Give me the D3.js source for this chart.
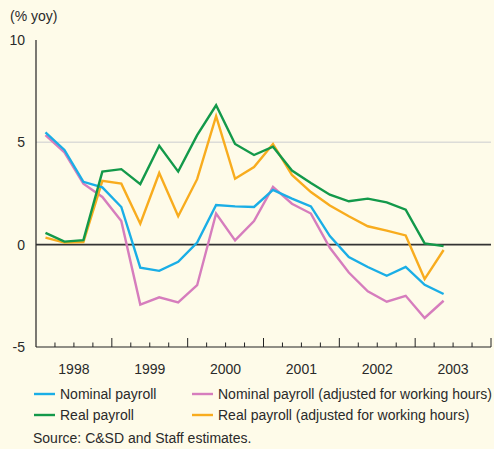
<!DOCTYPE html>
<html>
<head>
<meta charset="utf-8">
<script src="https://cdn.jsdelivr.net/npm/d3@7"></script>
<style>
  body { margin: 0; background: #fefbe9; }
  svg { display: block; font-family: 'Liberation Sans', Arial, sans-serif; }
</style>
</head>
<body>
<script>
// quarterly points, 1998 Q1 .. 2003 Q2
const years = ['1998', '1999', '2000', '2001', '2002', '2003']
const nominal = [5.49, 4.63, 3.07, 2.8, 1.84, -1.12, -1.28, -0.84, 0.1, 1.94, 1.87, 1.84,
  2.68, 2.25, 1.87, 0.42, -0.6, -1.09, -1.52, -1.09, -1.96, -2.41]
const nominalAdj = [5.35, 4.51, 2.98, 2.33, 1.15, -2.93, -2.57, -2.82, -1.98, 1.52, 0.21, 1.15,
  2.82, 2.0, 1.52, -0.15, -1.36, -2.28, -2.79, -2.5, -3.58, -2.74]
const real = [0.58, 0.15, 0.22, 3.57, 3.69, 2.96, 4.83, 3.57, 5.35, 6.81, 4.92, 4.38,
  4.79, 3.62, 3.01, 2.44, 2.12, 2.25, 2.07, 1.71, 0.06, -0.07]
const realAdj = [0.34, 0.1, 0.13, 3.12, 2.98, 1.02, 3.5, 1.39, 3.2, 6.28, 3.22, 3.79,
  4.92, 3.41, 2.57, 1.91, 1.39, 0.9, 0.69, 0.45, -1.68, -0.26]
const yTicks = [10, 5, 0, -5]

const series = [
  { name: 'Nominal payroll', values: nominal, color: '#1aaee6' },
  { name: 'Nominal payroll (adjusted for working hours)', values: nominalAdj, color: '#d67dbd' },
  { name: 'Real payroll', values: real, color: '#13994a' },
  { name: 'Real payroll (adjusted for working hours)', values: realAdj, color: '#f8ac1e' }
]

const width = 494
const height = 449
const margin = { left: 36, right: 3, top: 40, bottom: 102 }
const fontSize = 14

const svg = d3.select('body').append('svg')
  .attr('width', width)
  .attr('height', height)

svg.append('rect').attr('width', width).attr('height', height).attr('fill', '#fefbe9')

// x in quarters since 1998 Q1
const x = d3.scaleLinear().domain([0, years.length * 4]).range([margin.left, width - margin.right])
const y = d3.scaleLinear().domain([-5, 10]).range([height - margin.bottom, margin.top])

// gridline at 5
svg.append('line')
  .attr('x1', x(0)).attr('x2', x(24))
  .attr('y1', y(5)).attr('y2', y(5))
  .attr('stroke', '#dcdcd8').attr('stroke-width', 1.5)

// y labels
svg.selectAll('.ylab')
  .data(yTicks)
  .join('text')
  .attr('x', 25)
  .attr('y', (d) => y(d) + 5)
  .attr('text-anchor', 'end')
  .attr('font-size', fontSize)
  .attr('fill', '#2a2a2a')
  .text((d) => d)

svg.append('text')
  .attr('x', 10).attr('y', 21)
  .attr('font-size', fontSize).attr('fill', '#2a2a2a')
  .text('(% yoy)')

// axes
svg.append('line')
  .attr('x1', x(0)).attr('x2', x(0))
  .attr('y1', y(10)).attr('y2', y(-5))
  .attr('stroke', '#222').attr('stroke-width', 1.2)
svg.append('line')
  .attr('x1', x(0)).attr('x2', x(24))
  .attr('y1', y(-5)).attr('y2', y(-5))
  .attr('stroke', '#222').attr('stroke-width', 1.2)

// quarter ticks, longer at year boundaries
svg.selectAll('.qtick')
  .data(d3.range(1, 25))
  .join('line')
  .attr('x1', (d) => x(d)).attr('x2', (d) => x(d))
  .attr('y1', y(-5))
  .attr('y2', (d) => y(-5) - (d % 4 === 0 ? 9 : 4.5))
  .attr('stroke', '#222').attr('stroke-width', 1)

svg.selectAll('.xlab')
  .data(years)
  .join('text')
  .attr('x', (d, i) => x(i * 4 + 2))
  .attr('y', 374)
  .attr('text-anchor', 'middle')
  .attr('font-size', fontSize)
  .attr('fill', '#2a2a2a')
  .text((d) => d)

// zero line
svg.append('line')
  .attr('x1', x(0)).attr('x2', x(24))
  .attr('y1', y(0)).attr('y2', y(0))
  .attr('stroke', '#333').attr('stroke-width', 1.8)

const line = d3.line()
  .x((d, i) => x(i + 0.5))
  .y((d) => y(d))

// draw in order so that blue/green sit on top like the original
const drawOrder = [1, 3, 0, 2]
svg.selectAll('.series')
  .data(drawOrder.map((i) => series[i]))
  .join('path')
  .attr('d', (d) => line(d.values))
  .attr('fill', 'none')
  .attr('stroke', (d) => d.color)
  .attr('stroke-width', 2.4)
  .attr('stroke-linejoin', 'miter')

// legend
const legend = svg.append('g')
series.forEach((s, i) => {
  const lx = i % 2 === 0 ? 34 : 192
  const ly = i < 2 ? 394 : 415
  legend.append('line')
    .attr('x1', lx).attr('x2', lx + 21)
    .attr('y1', ly).attr('y2', ly)
    .attr('stroke', s.color).attr('stroke-width', 2.4)
  legend.append('text')
    .attr('x', lx + 26).attr('y', ly + 5)
    .attr('font-size', fontSize).attr('fill', '#2a2a2a')
    .text(s.name)
})

svg.append('text')
  .attr('x', 33).attr('y', 443)
  .attr('font-size', fontSize).attr('fill', '#2a2a2a')
  .text('Source: C&SD and Staff estimates.')
</script>
</body>
</html>
